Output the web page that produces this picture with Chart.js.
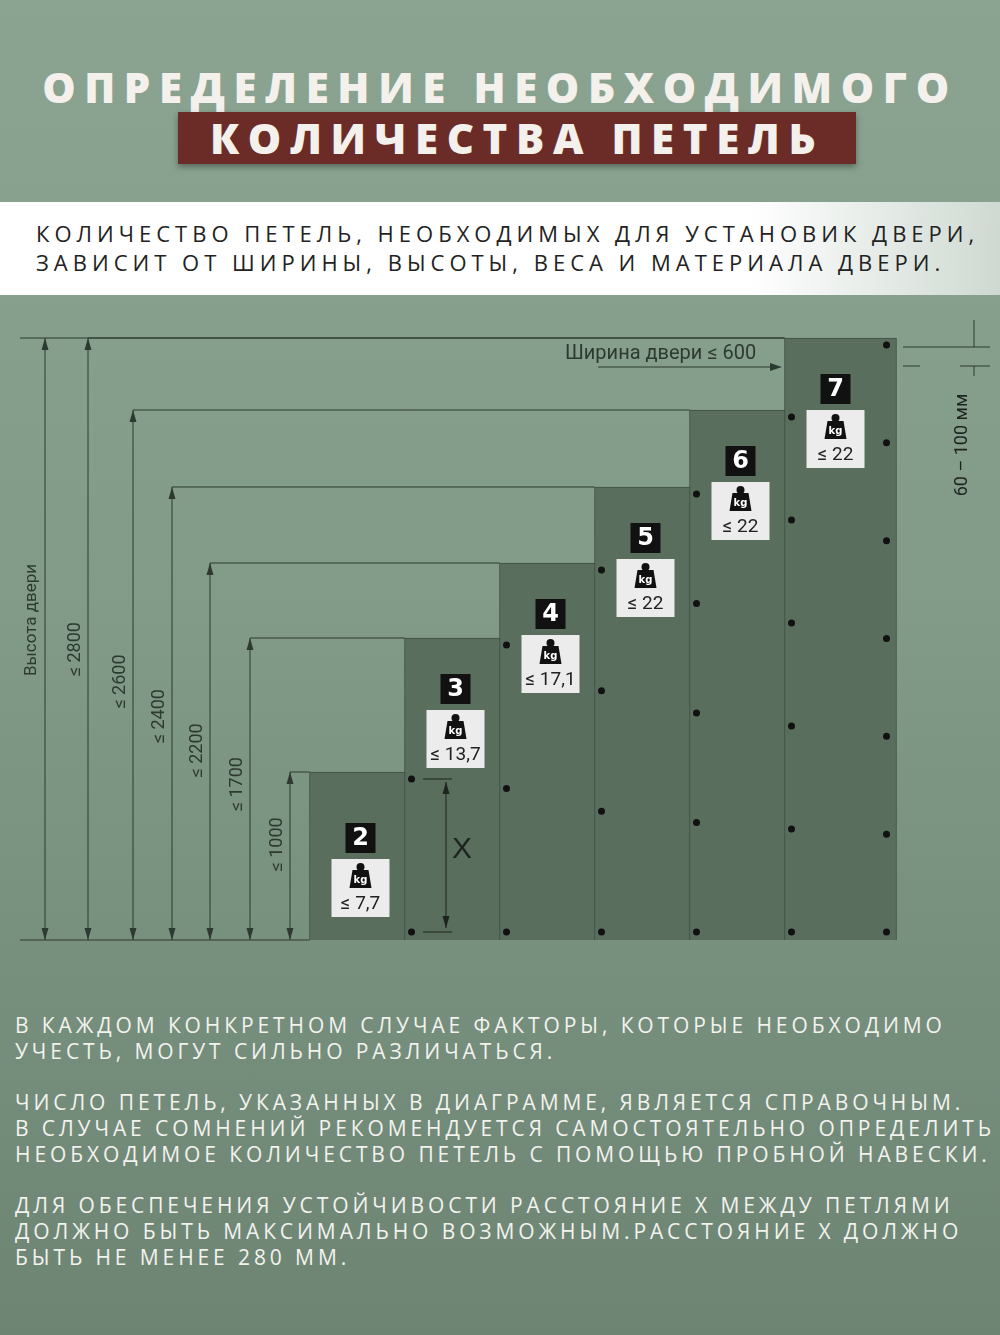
<!DOCTYPE html>
<html><head><meta charset="utf-8">
<script src="https://cdn.jsdelivr.net/npm/chart.js@4/dist/chart.umd.min.js"></script>
<style>
html,body{margin:0;padding:0;width:1000px;height:1335px;overflow:hidden;font-family:"Open Sans",sans-serif;}
body{background:linear-gradient(180deg,#8aa491 0%,#819b88 45%,#6d8473 100%);position:relative;}
.t1{position:absolute;top:58px;left:0;width:1000px;text-align:center;color:#f4f1ec;font-weight:800;font-size:42px;letter-spacing:8.6px;}
.t2{position:absolute;top:112px;left:178px;width:678px;height:52px;background:#6b2b26;color:#f4f1ec;font-weight:800;font-size:42px;letter-spacing:8.6px;text-align:center;line-height:52px;box-shadow:0 3px 6px rgba(0,0,0,.35);}
.band{position:absolute;top:202px;left:0;width:1000px;height:93px;background:linear-gradient(90deg,#fff 0%,#fff 75%,rgba(255,255,255,.6) 100%);}
.band div{position:absolute;left:36px;top:17px;font-size:22px;letter-spacing:5px;line-height:29px;color:#222;white-space:nowrap;}
.para{position:absolute;left:15px;color:#f2f2ee;font-size:21px;letter-spacing:3.9px;line-height:26px;white-space:nowrap;}
#wrap{position:absolute;left:0;top:0;width:1000px;height:1335px;}
</style></head><body>
<div class="t1">ОПРЕДЕЛЕНИЕ НЕОБХОДИМОГО</div>
<div class="t2">КОЛИЧЕСТВА ПЕТЕЛЬ</div>
<div class="band"><div>КОЛИЧЕСТВО ПЕТЕЛЬ, НЕОБХОДИМЫХ ДЛЯ УСТАНОВИК ДВЕРИ,<br>ЗАВИСИТ ОТ ШИРИНЫ, ВЫСОТЫ, ВЕСА И МАТЕРИАЛА ДВЕРИ.</div></div>
<div class="para" style="top:1012px">В КАЖДОМ КОНКРЕТНОМ СЛУЧАЕ ФАКТОРЫ, КОТОРЫЕ НЕОБХОДИМО<br>УЧЕСТЬ, МОГУТ СИЛЬНО РАЗЛИЧАТЬСЯ.</div>
<div class="para" style="top:1089px">ЧИСЛО ПЕТЕЛЬ, УКАЗАННЫХ В ДИАГРАММЕ, ЯВЛЯЕТСЯ СПРАВОЧНЫМ.<br>В СЛУЧАЕ СОМНЕНИЙ РЕКОМЕНДУЕТСЯ САМОСТОЯТЕЛЬНО ОПРЕДЕЛИТЬ<br>НЕОБХОДИМОЕ КОЛИЧЕСТВО ПЕТЕЛЬ С ПОМОЩЬЮ ПРОБНОЙ НАВЕСКИ.</div>
<div class="para" style="top:1192px">ДЛЯ ОБЕСПЕЧЕНИЯ УСТОЙЧИВОСТИ РАССТОЯНИЕ Х МЕЖДУ ПЕТЛЯМИ<br>ДОЛЖНО БЫТЬ МАКСИМАЛЬНО ВОЗМОЖНЫМ.РАССТОЯНИЕ Х ДОЛЖНО<br>БЫТЬ НЕ МЕНЕЕ 280 ММ.</div>
<div id="wrap"><canvas id="c"></canvas></div>
<script>
const hingeCounts = [2, 3, 4, 5, 6, 7];
const heightLabels = ["≤ 1000", "≤ 1700", "≤ 2200", "≤ 2400", "≤ 2600", "≤ 2800"];
const barLevels = [168, 302, 377, 453, 530, 602];
const weightLabels = ["≤ 7,7", "≤ 13,7", "≤ 17,1", "≤ 22", "≤ 22", "≤ 22"];
const arrowX = [290, 250, 210, 172, 133, 88];

const deco = {
  id: 'deco',
  afterDatasetsDraw(chart) {
    const ctx = chart.ctx, y = chart.scales.y;
    const meta = chart.getDatasetMeta(0);
    const base = y.getPixelForValue(0);
    ctx.save();
    ctx.strokeStyle = '#2d3a30'; ctx.fillStyle = '#2d3a30'; ctx.lineWidth = 1;
    function arrowHead(ax, ay, dir) {
      ctx.beginPath(); ctx.moveTo(ax, ay); ctx.lineTo(ax - 3.5, ay - dir * 12); ctx.lineTo(ax + 3.5, ay - dir * 12); ctx.closePath(); ctx.fill();
    }
    function vArrow(ax, top, bot) {
      ctx.beginPath(); ctx.moveTo(ax, top); ctx.lineTo(ax, bot); ctx.stroke();
      arrowHead(ax, top, -1); arrowHead(ax, bot, 1);
    }
    const left = i => meta.data[i].x - meta.data[i].width / 2;
    ctx.beginPath(); ctx.moveTo(20, base); ctx.lineTo(left(0), base); ctx.stroke();
    const topAll = y.getPixelForValue(barLevels[5]);
    ctx.beginPath(); ctx.moveTo(20, topAll); ctx.lineTo(left(5), topAll); ctx.stroke();
    vArrow(45, topAll, base);
    ctx.save(); ctx.translate(32, 620); ctx.rotate(-Math.PI / 2);
    ctx.font = '17px "Liberation Sans Narrow", "Roboto", sans-serif'; ctx.textAlign = 'center'; ctx.textBaseline = 'middle';
    ctx.fillText('Высота двери', 0, 0); ctx.restore();
    barLevels.forEach((v, i) => {
      const ty = y.getPixelForValue(v), ax = arrowX[i];
      ctx.beginPath(); ctx.moveTo(ax, ty); ctx.lineTo(left(i), ty); ctx.stroke();
      vArrow(ax, ty, base);
      ctx.save(); ctx.translate(ax - 13, base - (base - ty) * 0.45 - 20); ctx.rotate(-Math.PI / 2);
      ctx.font = '18px "Liberation Sans Narrow", "Roboto", sans-serif'; ctx.textAlign = 'center'; ctx.textBaseline = 'middle';
      ctx.fillText(heightLabels[i], 0, 0); ctx.restore();
    });
    meta.data.forEach((bar, i) => {
      const top = bar.y, right = bar.x + bar.width / 2 - 10, n = hingeCounts[i];
      const y0 = top + 7, y1 = base - 8;
      ctx.fillStyle = '#111';
      for (let k = 0; k < n; k++) {
        const yy = y0 + (y1 - y0) * k / (n - 1);
        ctx.beginPath(); ctx.arc(right, yy, 3.5, 0, Math.PI * 2); ctx.fill();
      }
      const off = i === 0 ? 15 : 0;
      const cx = bar.x - 5, t = top + off;
      ctx.fillStyle = '#111'; ctx.fillRect(cx - 15, t + 36, 30, 30);
      ctx.fillStyle = '#fff'; ctx.font = 'bold 24px "DejaVu Sans", sans-serif'; ctx.textAlign = 'center'; ctx.textBaseline = 'middle';
      ctx.fillText(String(n), cx, t + 52);
      ctx.fillStyle = '#ececec'; ctx.fillRect(cx - 29, t + 72, 58, 58);
      ctx.fillStyle = '#111';
      ctx.beginPath(); ctx.arc(cx, t + 80, 4, 0, Math.PI * 2); ctx.fill();
      ctx.beginPath(); ctx.moveTo(cx - 8, t + 83); ctx.lineTo(cx + 8, t + 83); ctx.lineTo(cx + 11, t + 101); ctx.lineTo(cx - 11, t + 101); ctx.closePath(); ctx.fill();
      ctx.fillStyle = '#fff'; ctx.font = 'bold 10px "DejaVu Sans", sans-serif'; ctx.fillText('kg', cx, t + 93);
      ctx.fillStyle = '#222'; ctx.font = '19px "Liberation Sans Narrow", "Roboto", sans-serif';
      ctx.fillText(weightLabels[i], cx, t + 117);
    });
    ctx.strokeStyle = '#1d241f'; ctx.fillStyle = '#1d241f';
    const b0 = meta.data[0];
    vArrow(446, b0.y + 10, base - 12);
    ctx.beginPath(); ctx.moveTo(423, b0.y + 7); ctx.lineTo(452, b0.y + 7); ctx.moveTo(423, base - 8); ctx.lineTo(452, base - 8); ctx.stroke();
    ctx.font = '30px "Liberation Sans Narrow", sans-serif'; ctx.textAlign = 'center';
    ctx.fillText('X', 462, 850);
    ctx.fillStyle = '#2d3a30'; ctx.strokeStyle = '#2d3a30';
    ctx.font = '20px "Liberation Sans Narrow", "Roboto", sans-serif'; ctx.textAlign = 'left';
    ctx.fillText('Ширина двери ≤ 600', 565, 354);
    ctx.beginPath(); ctx.moveTo(598, 367); ctx.lineTo(778, 367); ctx.stroke();
    ctx.beginPath(); ctx.moveTo(782, 367); ctx.lineTo(770, 363); ctx.lineTo(770, 371); ctx.closePath(); ctx.fill();
    ctx.beginPath(); ctx.moveTo(903, 347); ctx.lineTo(990, 347); ctx.moveTo(903, 366); ctx.lineTo(920, 366); ctx.moveTo(960, 366); ctx.lineTo(990, 366); ctx.stroke();
    ctx.beginPath(); ctx.moveTo(974, 320); ctx.lineTo(974, 347); ctx.moveTo(974, 366); ctx.lineTo(974, 376); ctx.stroke();
    ctx.save(); ctx.translate(962, 445); ctx.rotate(-Math.PI / 2);
    ctx.font = '18px "Liberation Sans Narrow", "Roboto", sans-serif'; ctx.textAlign = 'center'; ctx.textBaseline = 'middle';
    ctx.fillStyle = '#1d241f'; ctx.fillText('60 – 100 мм', 0, 0); ctx.restore();
    ctx.restore();
  }
};

new Chart(document.getElementById('c'), {
  type: 'bar',
  data: { labels: hingeCounts.map(String), datasets: [{ data: barLevels, backgroundColor: '#5a6e5d', borderColor: '#3f4f44', borderWidth: 1, barThickness: 112, clip: false }] },
  options: {
    responsive: true, maintainAspectRatio: false, animation: false,
    devicePixelRatio: 1,
    layout: { padding: { left: 318, right: 112, top: 338, bottom: 395 } },
    plugins: { legend: { display: false }, tooltip: { enabled: false } },
    scales: { x: { display: false }, y: { display: false, min: 0, max: 602 } }
  },
  plugins: [deco]
});
</script>
</body></html>
